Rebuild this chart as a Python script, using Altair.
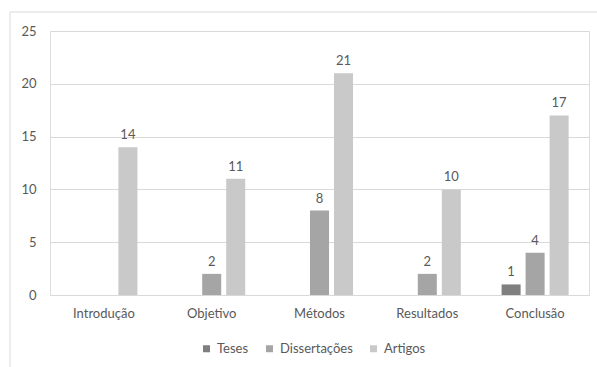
import altair as alt
import pandas as pd

categories = ["Introdução", "Objetivo", "Métodos", "Resultados", "Conclusão"]
series = ["Teses", "Dissertações", "Artigos"]
teses = [0, 0, 0, 0, 1]
dissertacoes = [0, 2, 8, 2, 4]
artigos = [14, 11, 21, 10, 17]
colors = ["#7f7f7f", "#a5a5a5", "#c9c9c9"]
y_ticks = [0, 5, 10, 15, 20, 25]

rows = []
for s, vals in zip(series, [teses, dissertacoes, artigos]):
    for c, v in zip(categories, vals):
        rows.append({"categoria": c, "serie": s, "valor": v})
df = pd.DataFrame(rows)

FONT = "Lato"
TXT = "#595959"

x_enc = alt.X("categoria:N", sort=categories, title=None,
              scale=alt.Scale(paddingInner=0.378, paddingOuter=0.189),
              axis=alt.Axis(labelAngle=0, ticks=False, domain=False, labelPadding=12,
                            labelFont=FONT, labelFontSize=13, labelColor=TXT, grid=False))
xoff = alt.XOffset("serie:N", sort=series,
                   scale=alt.Scale(paddingInner=0.208, paddingOuter=0))
y_enc = alt.Y("valor:Q", title=None,
              scale=alt.Scale(domain=[0, 25], nice=False),
              axis=alt.Axis(values=y_ticks, ticks=False, domain=False, labelPadding=14,
                            labelFont=FONT, labelFontSize=13, labelColor=TXT,
                            gridColor="#d9d9d9", gridWidth=1))

bars = alt.Chart(df).mark_bar().encode(
    x=x_enc, xOffset=xoff, y=y_enc,
    color=alt.Color("serie:N", sort=series,
                    scale=alt.Scale(domain=series, range=colors),
                    legend=alt.Legend(title=None, orient="none", direction="horizontal",
                                      legendX=150, legendY=311, symbolType="square",
                                      symbolSize=49, symbolStrokeWidth=0,
                                      labelFont=FONT, labelFontSize=13, labelColor=TXT,
                                      columnPadding=14, labelOffset=4)),
)

labels = alt.Chart(df).transform_filter("datum.valor > 0").mark_text(
    baseline="bottom", dy=-5, font=FONT, fontSize=13, color=TXT
).encode(x=alt.X("categoria:N", sort=categories), xOffset=xoff,
         y="valor:Q", text="valor:Q")

border = alt.Chart(pd.DataFrame({"a": [0]})).mark_rect(
    fill=None, stroke="#d9d9d9", strokeWidth=1
).encode(x=alt.value(-40), x2=alt.value(600), y=alt.value(-19), y2=alt.value(400))

chart = alt.layer(border, bars, labels).properties(
    width=539, height=264,
    autosize=alt.AutoSizeParams(type="none"),
    padding={"left": 50, "top": 31, "right": 8, "bottom": 72},
).configure_view(stroke=None).configure(background="white")

chart.save("out.html", embed_options={"renderer": "svg", "actions": False})
